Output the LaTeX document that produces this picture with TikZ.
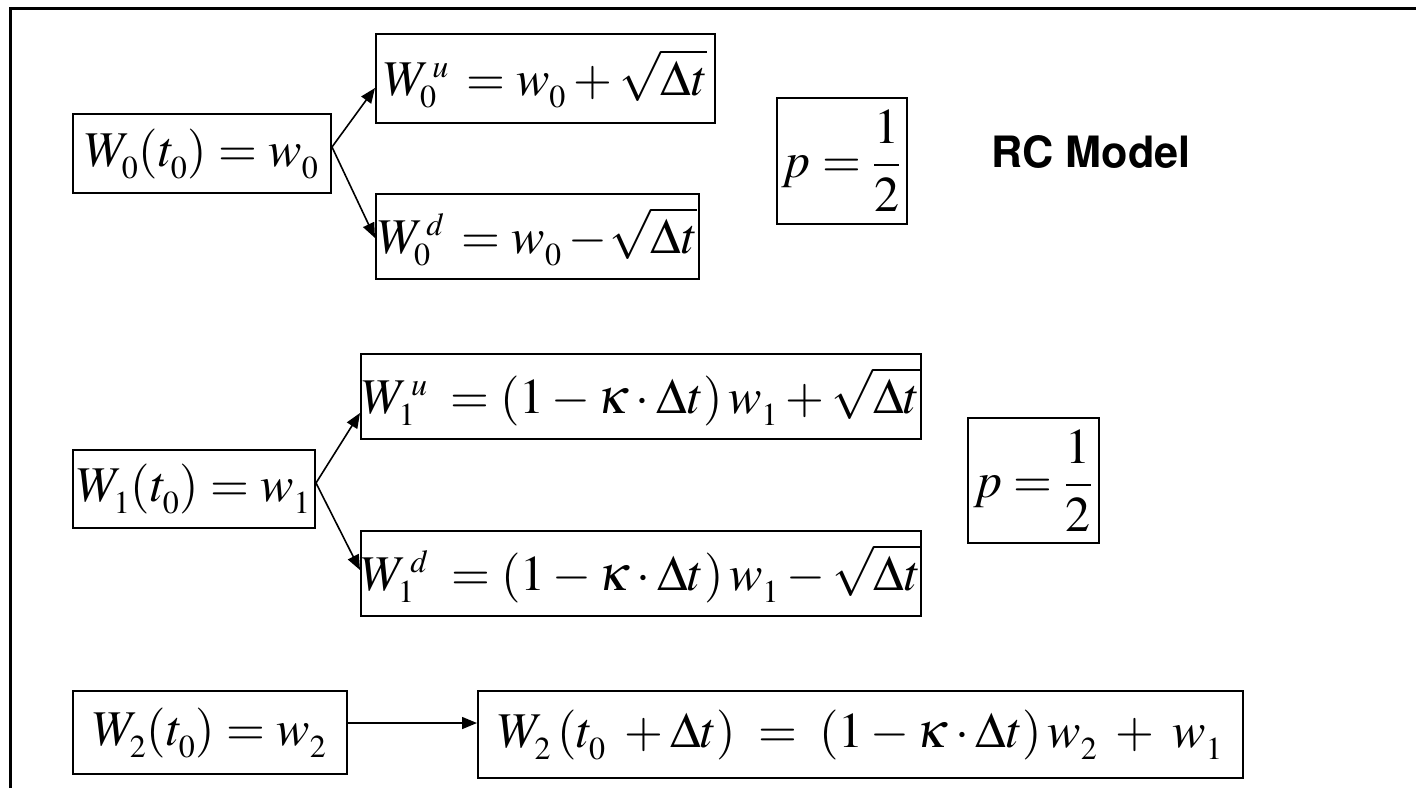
\documentclass[tikz,border=0pt]{standalone}
\usepackage{amsmath}
\usepackage{mathptmx}
\usepackage{tikz}
\usetikzlibrary{arrows.meta}
\DeclareMathSizes{25}{25}{16}{12}
\makeatletter
\everymath\expandafter{\the\everymath\fontdimen16\textfont2=6pt\fontdimen17\textfont2=6pt}
\makeatother

\begin{document}
\begin{tikzpicture}[
      x=0.5pt, y=-0.5pt,
      eq/.style={draw, line width=1pt, inner sep=0pt, font=\fontsize{25}{30}\selectfont},
      prob/.style={draw, line width=1pt, inner sep=0pt, minimum width=65pt, minimum height=63pt, font=\fontsize{25}{30}\selectfont},
      title/.style={anchor=base west, inner sep=0pt, font=\fontencoding{OT1}\fontfamily{phv}\fontseries{b}\fontsize{21.6}{26}\selectfont},
      arr/.style={-{Triangle[length=7.5pt,width=6pt]}, line width=0.8pt}
  ]
    \useasboundingbox (0,0) rectangle (1416,788);
    \draw[line width=1.5pt] (10,788) -- (10,8) -- (1416,8);

    % W0
    \node[eq, minimum width=129pt, minimum height=39.5pt] (w0) at (202,153.5) {$W_0(t_0) = w_0$};
    \node[eq, minimum width=169.5pt, minimum height=44.5pt] (w0u) at (545.5,78.5) {$W_0^{\,u}\, = w_0 + \sqrt{\Delta t}$};
    \node[eq, minimum width=161.5pt, minimum height=42.5pt] (w0d) at (537.5,236.5) {$W_0^{\,d}\, = w_0 - \!\sqrt{\Delta t}$};
    \node[prob] (p0) at (842,161) {$p = \dfrac{1}{2}$};
    \node[title] (rc) at (991,167) {RC Model};
    \draw[arr] ([yshift=3.25pt]w0.east) -- ([yshift=-4.75pt]w0u.west);
    \draw[arr] ([yshift=3.25pt]w0.east) -- ([yshift=-0.75pt]w0d.west);

    % W1
    \node[eq, minimum width=121pt, minimum height=39pt] (w1) at (194,489) {$W_1(t_0) = w_1$};
    \node[eq, minimum width=280pt, minimum height=42.5pt] (w1u) at (641,396.5) {$W_1^{\,u}\; = (1 - \kappa \cdot \Delta t)\,w_1 + \sqrt{\Delta t}$};
    \node[eq, minimum width=280pt, minimum height=42.5pt] (w1d) at (641,573.5) {$W_1^{\,d}\; = (1 - \kappa \cdot \Delta t)\,w_1 - \sqrt{\Delta t}$};
    \node[prob, minimum width=65.5pt, minimum height=62.5pt] (p1) at (1033.5,480.5) {$p = \dfrac{1}{2}$};
    \draw[arr] ([yshift=3pt]w1.east) -- ([yshift=-8.25pt]w1u.west);
    \draw[arr] ([yshift=3pt]w1.east) -- ([yshift=1.75pt]w1d.west);

    % W2
    \node[eq, minimum width=137pt, minimum height=41.5pt] (w2) at (210,732.5) {$W_2(t_0) = w_2$};
    \node[eq, minimum width=382.5pt, minimum height=43.5pt] (w2n) at (860.5,734.5) {$W_2\,(t_0\; + \Delta t) \;=\; (1 - \kappa \cdot \Delta t)\,w_2\; +\; w_1$};
    \draw[arr] ([yshift=4.75pt]w2.east) -- ([yshift=5.75pt]w2n.west);
  \end{tikzpicture}
\end{document}
